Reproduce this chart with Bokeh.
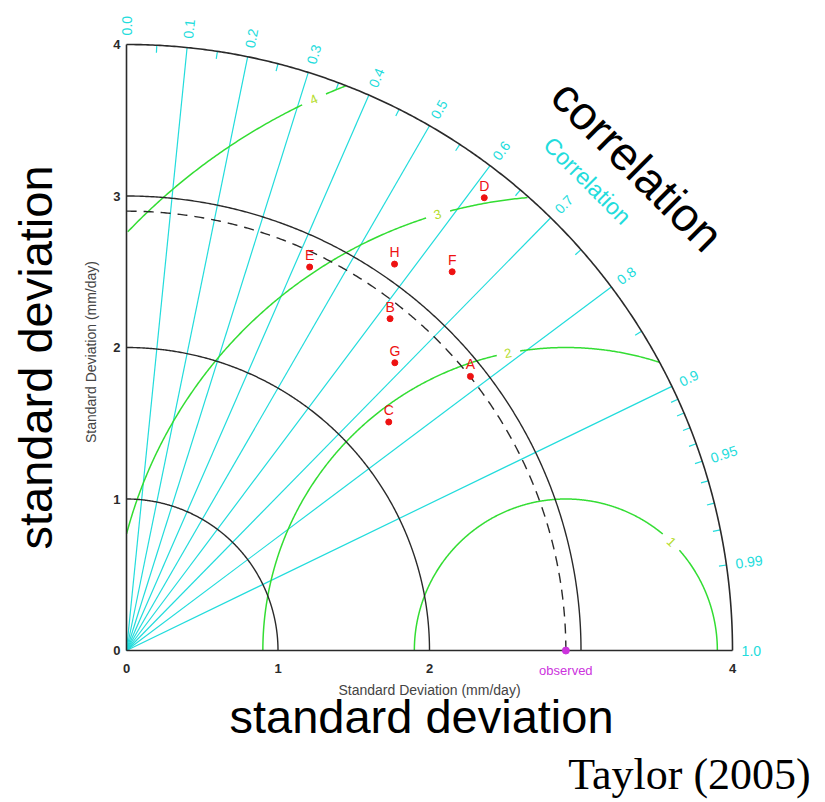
import numpy as np
from bokeh.plotting import figure
from bokeh.embed import file_html
from bokeh.resources import INLINE
from bokeh.core.properties import value

# ---------------- data ----------------
models = ["A", "B", "C", "D", "E", "F", "G", "H"]
model_std = [2.903, 2.797, 2.296, 3.809, 2.805, 3.297, 2.597, 3.104]
model_corr = [0.782, 0.622, 0.754, 0.620, 0.431, 0.652, 0.682, 0.570]

observed_std = 2.9
observed_label = "observed"

std_max = 4.0
std_arcs = [1.0, 2.0, 3.0]
x_tick_vals = [0, 1, 2, 4]
x_tick_labels = ["0", "1", "2", "4"]
y_tick_vals = [0, 1, 2, 3, 4]
y_tick_labels = ["0", "1", "2", "3", "4"]

rms_levels = [1, 2, 3, 4]
rms_label_text = ["1", "2", "3", "4"]

corr_lines = [0.1, 0.2, 0.3, 0.4, 0.5, 0.6, 0.7, 0.8, 0.9]
corr_label_vals = [0.0, 0.1, 0.2, 0.3, 0.4, 0.5, 0.6, 0.7, 0.8, 0.9, 0.95, 0.99, 1.0]
corr_label_text = ["0.0", "0.1", "0.2", "0.3", "0.4", "0.5", "0.6", "0.7", "0.8",
                   "0.9", "0.95", "0.99", "1.0"]
corr_minor = [0.05, 0.15, 0.25, 0.35, 0.45, 0.55, 0.65, 0.75, 0.85,
              0.91, 0.92, 0.93, 0.94, 0.95, 0.96, 0.97, 0.98, 0.99]

x_title = "Standard Deviation (mm/day)"
y_title = "Standard Deviation (mm/day)"
corr_title = "Correlation"

# ---------------- styles / layout ----------------
FONT = value("Liberation Sans")
CYAN = "#22dcdc"
GREEN = "#33dd33"
GREEN_LBL = "#b4dc2a"
BLACK = "#2a2a2a"
RED = "#ee1111"
MAGENTA = "#cc33dd"

W, H = 825, 802
scale = 151.5  # px per unit
ox, oy = 126.0, 650.0  # origin in frame px
x0 = -ox / scale
x1 = x0 + W / scale
y1 = oy / scale
y0 = y1 - H / scale


def px_x(px):
    return (px - ox) / scale


def px_y(py):
    return (oy - py) / scale


p = figure(width=W, height=H, x_range=(x0, x1), y_range=(y0, y1),
           output_backend="svg", toolbar_location=None,
           x_axis_type=None, y_axis_type=None, min_border=0)
p.grid.visible = False
p.outline_line_color = None
p.background_fill_color = "white"
p.border_fill_color = "white"

# correlation lines (cyan)
xs, ys = [], []
for c in corr_lines:
    t = np.arccos(c)
    xs.append([0, std_max * np.cos(t)])
    ys.append([0, std_max * np.sin(t)])
p.multi_line(xs, ys, line_color=CYAN, line_width=1.2)

# minor ticks on outer arc
xs, ys = [], []
for c in corr_minor:
    t = np.arccos(c)
    xs.append([std_max * np.cos(t), (std_max - 0.05) * np.cos(t)])
    ys.append([std_max * np.sin(t), (std_max - 0.05) * np.sin(t)])
p.multi_line(xs, ys, line_color=CYAN, line_width=1.2)

# RMS contours (green), centred on observed
rms_label_phi = [45.8, 101.0, 106.4, 114.6]  # degrees, label placement
for R, lab, phid in zip(rms_levels, rms_label_text, rms_label_phi):
    phi = np.linspace(0, np.pi, 800)
    gx = observed_std + R * np.cos(phi)
    gy = R * np.sin(phi)
    ok = (gx >= 0) & (gx ** 2 + gy ** 2 <= std_max ** 2 + 1e-9)
    gap = 0.075 / R
    ok &= np.abs(phi - np.radians(phid)) > gap
    gx = np.where(ok, gx, np.nan)
    gy = np.where(ok, gy, np.nan)
    p.line(gx, gy, line_color=GREEN, line_width=1.5)
    lx = observed_std + R * np.cos(np.radians(phid))
    ly = R * np.sin(np.radians(phid))
    p.text([lx], [ly], text=[lab], angle=np.radians(phid - 90),
           text_font=FONT, text_font_size="13px", text_color=GREEN_LBL,
           text_align="center", text_baseline="middle")

# std arcs (black)
th = np.linspace(0, np.pi / 2, 400)
for r in std_arcs:
    p.line(r * np.cos(th), r * np.sin(th), line_color=BLACK, line_width=1.4)
p.line(std_max * np.cos(th), std_max * np.sin(th), line_color=BLACK, line_width=1.6)
# observed std dashed arc
p.line(observed_std * np.cos(th), observed_std * np.sin(th), line_color=BLACK,
       line_width=1.4, line_dash="10 7")

# axes lines
p.line([0, std_max], [0, 0], line_color=BLACK, line_width=1.6)
p.line([0, 0], [0, std_max], line_color=BLACK, line_width=1.6)

# tick labels
p.text(x_tick_vals, [0] * len(x_tick_vals), text=x_tick_labels, y_offset=13,
       text_font=FONT, text_font_size="13px", text_font_style="bold",
       text_color=BLACK, text_align="center", text_baseline="top")
p.text([0] * len(y_tick_vals), y_tick_vals, text=y_tick_labels, x_offset=-6,
       text_font=FONT, text_font_size="13px", text_font_style="bold",
       text_color=BLACK, text_align="right", text_baseline="middle")

# correlation labels
ang = np.arccos(np.array(corr_label_vals))
rl = std_max + 0.06
p.text(rl * np.cos(ang), rl * np.sin(ang), text=corr_label_text, angle=ang,
       text_font=FONT, text_font_size="14px", text_color=CYAN,
       text_align="left", text_baseline="middle")

# Correlation title
p.text([3.043], [3.102], text=[corr_title], angle=-np.pi / 4,
       text_font=FONT, text_font_size="23px", text_color=CYAN,
       text_align="center", text_baseline="middle")

# axis titles
p.text([std_max / 2 + 0.0], [0], text=[x_title], y_offset=31,
       text_font=FONT, text_font_size="14px", text_color="#444444",
       text_align="center", text_baseline="top")
p.text([0], [1.97], text=[y_title], x_offset=-28, angle=np.pi / 2,
       text_font=FONT, text_font_size="14px", text_color="#444444",
       text_align="center", text_baseline="bottom")

# models
mt = np.arccos(np.array(model_corr))
mx = np.array(model_std) * np.cos(mt)
my = np.array(model_std) * np.sin(mt)
p.scatter(mx, my, size=6, fill_color=RED, line_color=RED)
p.text(mx, my, text=models, y_offset=-4,
       text_font=FONT, text_font_size="14px", text_color=RED,
       text_align="center", text_baseline="bottom")

# observed
p.scatter([observed_std], [0], size=7, fill_color=MAGENTA, line_color=MAGENTA)
p.text([observed_std], [0], text=[observed_label], y_offset=12,
       text_font=FONT, text_font_size="13px", text_color=MAGENTA,
       text_align="center", text_baseline="top")

# big annotations
p.text([px_x(35)], [px_y(357)], text=["standard deviation"], angle=np.pi / 2,
       text_font=FONT, text_font_size="47px", text_color="black",
       text_align="center", text_baseline="middle")
p.text([px_x(421)], [px_y(716)], text=["standard deviation"],
       text_font=FONT, text_font_size="47px", text_color="black",
       text_align="center", text_baseline="middle")
p.text([px_x(637)], [px_y(165)], text=["correlation"], angle=-np.pi / 4,
       text_font=FONT, text_font_size="47px", text_color="black",
       text_align="center", text_baseline="middle")
p.text([px_x(689)], [px_y(774)], text=["Taylor (2005)"],
       text_font=value("Liberation Serif"), text_font_size="44px", text_color="black",
       text_align="center", text_baseline="middle")

open("out.html", "w").write(file_html(p, INLINE))
